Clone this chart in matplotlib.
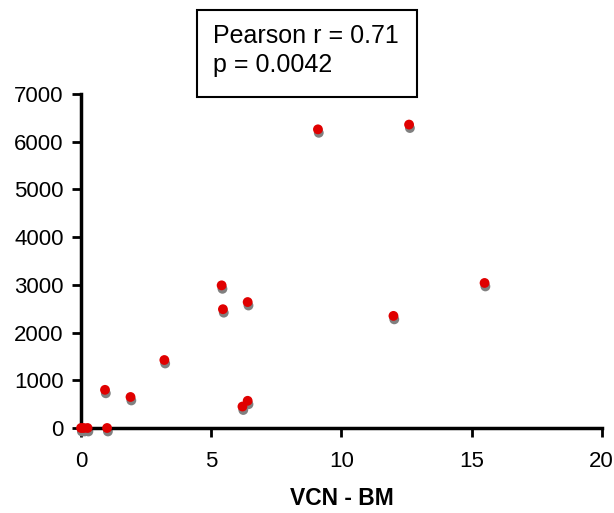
import matplotlib
matplotlib.use('Agg')
import matplotlib.pyplot as plt
import matplotlib.transforms as mtransforms
from matplotlib.patches import Rectangle

# data
vcn_bm = [0.0, 0.1, 0.25, 1.0, 0.92, 1.9, 3.2, 5.4, 5.45, 6.4, 6.4, 6.2, 9.1, 12.6, 12.0, 15.5]
values = [0, 0, 0, 0, 800, 650, 1425, 2990, 2490, 2640, 570, 450, 6260, 6360, 2350, 3040]
x_ticks = [0, 5, 10, 15, 20]
y_ticks = [0, 1000, 2000, 3000, 4000, 5000, 6000, 7000]
stats_lines = ['Pearson r = 0.71', 'p = 0.0042']

plt.rcParams['font.family'] = ['Liberation Sans', 'DejaVu Sans']

fig = plt.figure(figsize=(6.14, 5.13), dpi=100)
ax = fig.add_axes([0.132, 0.1657, 0.848, 0.651])

# grey drop shadow under each red point
shadow = mtransforms.offset_copy(ax.transData, fig=fig, x=0.6, y=-2.5, units='points')
ax.scatter(vcn_bm, values, s=50, c='#808080', edgecolors='none', transform=shadow, clip_on=False, zorder=2)
ax.scatter(vcn_bm, values, s=50, c='#e00000', edgecolors='none', clip_on=False, zorder=3)

ax.set_xlim(0, 20)
ax.set_ylim(0, 7000)
ax.set_xticks(x_ticks)
ax.set_yticks(y_ticks)
ax.spines['top'].set_visible(False)
ax.spines['right'].set_visible(False)
for s in ['left', 'bottom']:
    ax.spines[s].set_linewidth(2.5)
ax.tick_params(direction='out', length=6.5, width=2, labelsize=16)
ax.tick_params(axis='x', pad=10)
ax.tick_params(axis='y', pad=6)
ax.set_xlabel('VCN - BM', fontsize=16.5, fontweight='bold', labelpad=11)

# stats box
fig.patches.append(Rectangle((0.321, 0.811), 0.358, 0.169, transform=fig.transFigure,
                             fill=False, edgecolor='black', linewidth=1.5))
fig.text(0.347, 0.916, stats_lines[0], fontsize=18, va='baseline', ha='left')
fig.text(0.347, 0.860, stats_lines[1], fontsize=18, va='baseline', ha='left')

fig.savefig('out.png', dpi=100)
